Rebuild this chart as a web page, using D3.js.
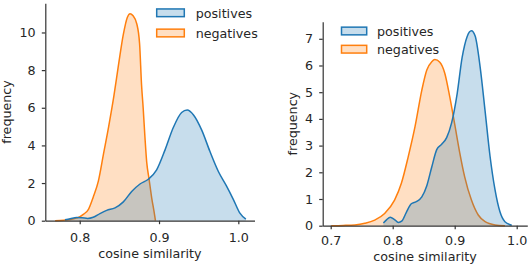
<!DOCTYPE html>
<html><head><meta charset="utf-8">
<script src="https://cdn.jsdelivr.net/npm/d3@7"></script>
<style>
body{margin:0;background:#fff}
svg{display:block}
text{font-family:"DejaVu Sans",sans-serif;fill:#262626}
</style>
</head><body>
<svg id="c" width="530" height="264"></svg>
<script>
// ---------- data ----------
const seriesNames = ["positives", "negatives"];
const xLabel = "cosine similarity";
const yLabel = "frequency";

// left panel
const leftPosX = [0.7815,0.788,0.796,0.803,0.810,0.817,0.8255,0.834,0.8445,0.855,0.8655,0.876,0.8865,0.897,0.9075,0.918,0.9285,0.9355,0.9435,0.954,0.964,0.975,0.985,0.9935,1.002,1.0095];
const leftPosY = [0.05,0.1,0.17,0.16,0.12,0.18,0.38,0.55,0.68,1.0,1.55,1.95,2.2,2.7,3.75,4.95,5.75,5.88,5.62,4.8,3.7,2.6,1.85,1.15,0.4,0.08];
const leftNegX = [0.769,0.780,0.790,0.797,0.805,0.811,0.817,0.8235,0.830,0.8365,0.843,0.849,0.855,0.860,0.8635,0.867,0.872,0.8755,0.878,0.880,0.8823,0.8845,0.8875,0.891,0.8937,0.8955];
const leftNegY = [0,0.03,0.08,0.15,0.35,0.6,1.25,2.1,3.55,5.0,6.6,8.3,9.9,10.8,11.0,10.9,10.45,9.4,7.2,6.0,4.4,3.1,2.2,1.15,0.5,0];
const leftXTicks = [0.8, 0.9, 1.0];
const leftYTicks = [0, 2, 4, 6, 8, 10];

// right panel
const rightPosX = [0.785,0.790,0.796,0.803,0.809,0.815,0.822,0.830,0.838,0.847,0.855,0.863,0.871,0.879,0.887,0.895,0.904,0.912,0.920,0.927,0.933,0.941,0.949,0.957,0.965,0.973,0.981,0.992];
const rightPosY = [0.1,0.22,0.32,0.23,0.12,0.18,0.5,0.82,0.9,1.08,1.5,2.2,2.85,3.05,3.3,3.85,4.95,6.3,7.08,7.3,7.1,5.95,4.3,2.6,1.35,0.52,0.15,0.02];
const rightNegX = [0.701,0.72,0.739,0.755,0.771,0.787,0.803,0.814,0.825,0.836,0.847,0.855,0.863,0.868,0.876,0.884,0.892,0.900,0.908,0.916,0.927,0.938,0.949,0.965,0.981];
const rightNegY = [0,0.01,0.03,0.09,0.21,0.46,0.96,1.59,2.58,3.71,5.08,5.83,6.14,6.22,6.12,5.71,4.83,3.8,2.75,1.84,0.96,0.4,0.15,0.03,0];
const rightXTicks = [0.7, 0.8, 0.9, 1.0];
const rightYTicks = [0, 1, 2, 3, 4, 5, 6, 7];

// ---------- layout ----------
const colors = {positives: "#1f77b4", negatives: "#ff7f0e"};
const panels = [
  {pos: [leftPosX, leftPosY], neg: [leftNegX, leftNegY], xt: leftXTicks, yt: leftYTicks,
   xr: [45.3, 254.5], yr: [220.7, 3.3], xd: [0.7566, 1.0204], yd: [0, 11.55],
   xpad: 9.0, ypad: 6.2, xlabY: 258, ylabX: 11,
   leg: {x: 156.7, y: 12.8, w: 27.6, h: 7.7, gap: 20.2, tx: 195.7}},
  {pos: [rightPosX, rightPosY], neg: [rightNegX, rightNegY], xt: rightXTicks, yt: rightYTicks,
   xr: [322.7, 527.3], yr: [225.7, 21.7], xd: [0.6871, 1.0171], yd: [0, 7.64],
   xpad: 7.0, ypad: 6.2, xlabY: 260.5, ylabX: 297,
   leg: {x: 341.5, y: 31.0, w: 25.2, h: 7.7, gap: 18.2, tx: 377}}
];
const fs = 12.7;

const svg = d3.select("#c");

panels.forEach(p => {
  const x = d3.scaleLinear().domain(p.xd).range(p.xr);
  const y = d3.scaleLinear().domain(p.yd).range(p.yr);
  const g = svg.append("g");

  const area = d3.area().curve(d3.curveMonotoneX)
    .x(d => x(d[0])).y0(y(0)).y1(d => y(d[1]));
  const line = d3.line().curve(d3.curveMonotoneX)
    .x(d => x(d[0])).y(d => y(d[1]));

  const draw = (arr, c) => {
    const pts = arr[0].map((v, i) => [v, arr[1][i]]);
    g.append("path").attr("d", area(pts)).attr("fill", c).attr("fill-opacity", 0.25);
    g.append("path").attr("d", line(pts)).attr("fill", "none").attr("stroke", c).attr("stroke-width", 1.5);
  };
  draw(p.neg, colors.negatives);
  draw(p.pos, colors.positives);

  // axes
  const ax = g.append("g").attr("transform", `translate(0,${p.yr[0]})`)
    .call(d3.axisBottom(x).tickValues(p.xt).tickFormat(d3.format(".1f"))
      .tickSizeInner(3.5).tickSizeOuter(0).tickPadding(p.xpad));
  const ay = g.append("g").attr("transform", `translate(${p.xr[0]},0)`)
    .call(d3.axisLeft(y).tickValues(p.yt).tickFormat(d3.format("d"))
      .tickSizeInner(3.5).tickSizeOuter(0).tickPadding(p.ypad));
  [ax, ay].forEach(a => {
    a.selectAll("path.domain").attr("stroke", "#333").attr("stroke-width", 1.2);
    a.selectAll(".tick line").attr("stroke", "#333").attr("stroke-width", 1.2);
    a.selectAll(".tick text").attr("font-size", fs).attr("fill", "#262626")
      .style("font-family", '"DejaVu Sans", sans-serif');
  });

  // labels
  g.append("text").attr("x", (p.xr[0] + p.xr[1]) / 2).attr("y", p.xlabY)
    .attr("text-anchor", "middle").attr("font-size", fs).text(xLabel);
  g.append("text").attr("transform", `translate(${p.ylabX},${(p.yr[0] + p.yr[1]) / 2}) rotate(-90)`)
    .attr("text-anchor", "middle").attr("font-size", fs).text(yLabel);

  // legend
  seriesNames.forEach((name, i) => {
    const cy = p.leg.y + i * p.leg.gap;
    g.append("rect").attr("x", p.leg.x).attr("y", cy - p.leg.h / 2)
      .attr("width", p.leg.w).attr("height", p.leg.h)
      .attr("fill", colors[name]).attr("fill-opacity", 0.25)
      .attr("stroke", colors[name]).attr("stroke-width", 1.5);
    g.append("text").attr("x", p.leg.tx).attr("y", cy + 5)
      .attr("font-size", fs).text(name);
  });
});
</script>
</body></html>
